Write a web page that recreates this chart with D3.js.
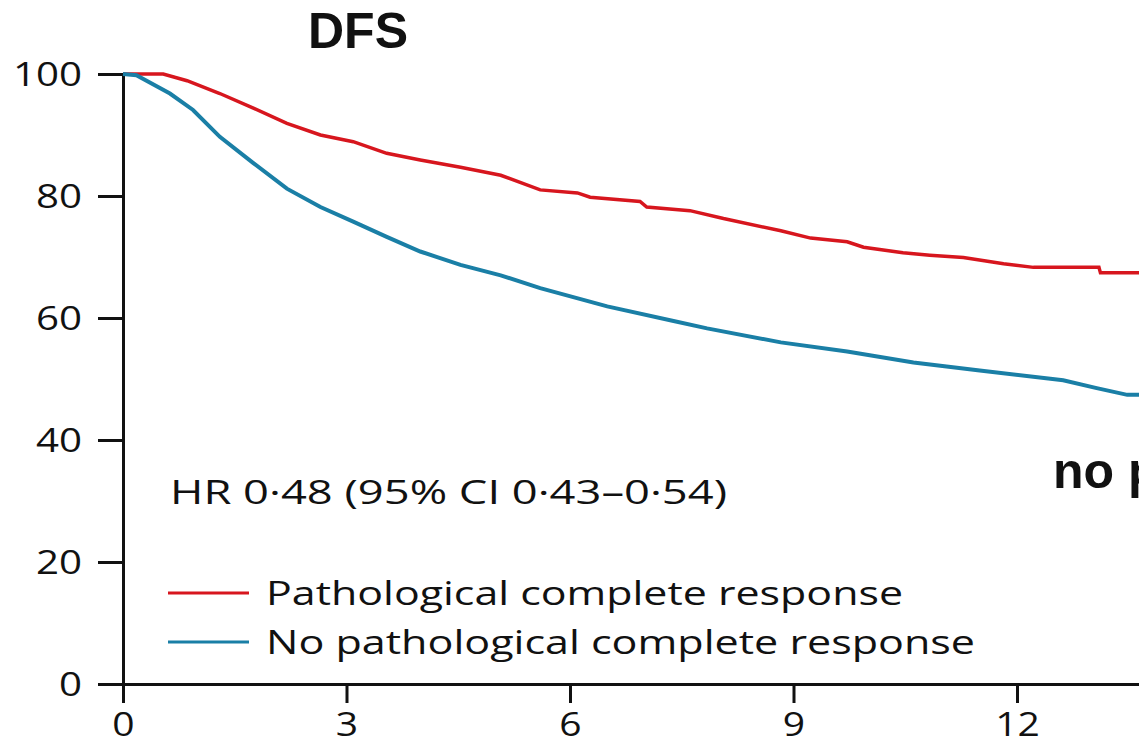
<!DOCTYPE html>
<html>
<head>
<meta charset="utf-8">
<script src="https://cdn.jsdelivr.net/npm/d3@7"></script>
<style>
	body { margin: 0; background: #fff; }
	svg { display: block; overflow: hidden; }
	text { font-family: "Open Sans", "Noto Sans", sans-serif; fill: #111; }
</style>
</head>
<body>
<div id="chart"></div>
<script>
// months, survival %
var pcrTime = [0, 0.54, 0.86, 1.30, 1.75, 2.20, 2.65, 3.09, 3.54, 3.99, 4.53, 5.07, 5.60, 6.10, 6.27, 6.94, 7.03, 7.61, 8.06, 8.83, 9.23, 9.72, 9.94, 10.47, 10.83, 11.28, 11.82, 12.22, 13.10, 13.12, 13.8];
var pcrValue = [100, 100, 98.9, 96.8, 94.4, 91.9, 90.0, 88.9, 87.0, 85.9, 84.7, 83.4, 81.0, 80.5, 79.8, 79.1, 78.2, 77.6, 76.3, 74.3, 73.1, 72.5, 71.6, 70.7, 70.3, 69.9, 68.9, 68.3, 68.3, 67.4, 67.4];
var noPcrTime = [0, 0.18, 0.63, 0.94, 1.30, 1.75, 2.20, 2.65, 3.09, 3.54, 3.99, 4.53, 5.07, 5.60, 6.50, 7.39, 7.84, 8.83, 9.72, 10.61, 11.50, 12.62, 13.07, 13.48, 13.8];
var noPcrValue = [100, 99.8, 96.8, 94.1, 89.7, 85.4, 81.2, 78.2, 75.8, 73.3, 70.9, 68.7, 67.0, 64.9, 61.9, 59.5, 58.3, 56.0, 54.5, 52.7, 51.4, 49.8, 48.5, 47.4, 47.4];

var xTicks = [0, 3, 6, 9, 12];
var yTicks = [0, 20, 40, 60, 80, 100];
var seriesNames = ["Pathological complete response", "No pathological complete response"];
var seriesColors = ["#d7161e", "#1a7fa6"];
var hrLabel = "HR 0·48 (95% CI 0·43–0·54)";

var width = 1139, height = 745;
var stretch = 1.22;

var svg = d3.select("#chart").append("svg")
	.attr("width", width)
	.attr("height", height);

var x = d3.scaleLinear().domain([0, 12]).range([123, 1017]);
var y = d3.scaleLinear().domain([0, 100]).range([684, 74]);

// x axis runs off the right edge
var xAxis = svg.append("g")
	.attr("transform", "translate(0," + y(0) + ")")
	.call(d3.axisBottom(x.copy().domain([0, 16]).range([123, 123 + 16 * 74.5]))
		.tickValues(xTicks).tickSize(19).tickSizeOuter(0));
xAxis.select(".domain").attr("stroke", "#111").attr("stroke-width", 3);
xAxis.selectAll(".tick line").attr("stroke", "#111").attr("stroke-width", 3);
xAxis.selectAll(".tick text")
	.attr("y", 52).attr("dy", 0)
	.attr("font-size", 32)
	.attr("transform", "scale(" + stretch + ",1)");

var yAxis = svg.append("g")
	.attr("transform", "translate(" + x(0) + ",0)")
	.call(d3.axisLeft(y).tickValues(yTicks).tickSize(25).tickSizeOuter(0));
yAxis.select(".domain").attr("stroke", "#111").attr("stroke-width", 3);
yAxis.selectAll(".tick line").attr("stroke", "#111").attr("stroke-width", 3);
yAxis.selectAll(".tick text")
	.attr("x", -41 / stretch).attr("dy", "0.36em")
	.attr("font-size", 33)
	.attr("transform", "scale(" + stretch + ",1)");

var line = d3.line()
	.x(function(d){ return x(d[0]); })
	.y(function(d){ return y(d[1]); });

var series = [
	d3.zip(pcrTime, pcrValue),
	d3.zip(noPcrTime, noPcrValue)
];

svg.selectAll("path.curve").data(series).enter()
	.append("path")
	.attr("class", "curve")
	.attr("d", line)
	.attr("fill", "none")
	.attr("stroke", function(d, i){ return seriesColors[i]; })
	.attr("stroke-width", function(d, i){ return i == 0 ? 3.5 : 4; });

// text
svg.append("text")
	.attr("x", 358).attr("y", 48)
	.attr("text-anchor", "middle")
	.style("font-family", "'Liberation Sans', Arial, sans-serif")
	.style("font-weight", "bold")
	.attr("font-size", 50)
	.text("DFS");

svg.append("text")
	.attr("x", 1053).attr("y", 488)
	.style("font-family", "'Liberation Sans', Arial, sans-serif")
	.style("font-weight", "bold")
	.attr("font-size", 50)
	.text("no pCR");

svg.append("text")
	.attr("x", 170).attr("y", 504)
	.attr("font-size", 33)
	.attr("textLength", 557)
	.attr("lengthAdjust", "spacingAndGlyphs")
	.text(hrLabel);

var legend = svg.selectAll("g.legend").data(seriesNames).enter()
	.append("g")
	.attr("class", "legend")
	.attr("transform", function(d, i){ return "translate(168," + (593 + i * 49) + ")"; });

legend.append("line")
	.attr("x1", 0).attr("x2", 81)
	.attr("stroke", function(d, i){ return seriesColors[i]; })
	.attr("stroke-width", 3);

legend.append("text")
	.attr("x", 98).attr("y", 12)
	.attr("font-size", 33)
	.attr("textLength", function(d, i){ return i == 0 ? 637 : 709; })
	.attr("lengthAdjust", "spacingAndGlyphs")
	.text(function(d){ return d; });
</script>
</body>
</html>
